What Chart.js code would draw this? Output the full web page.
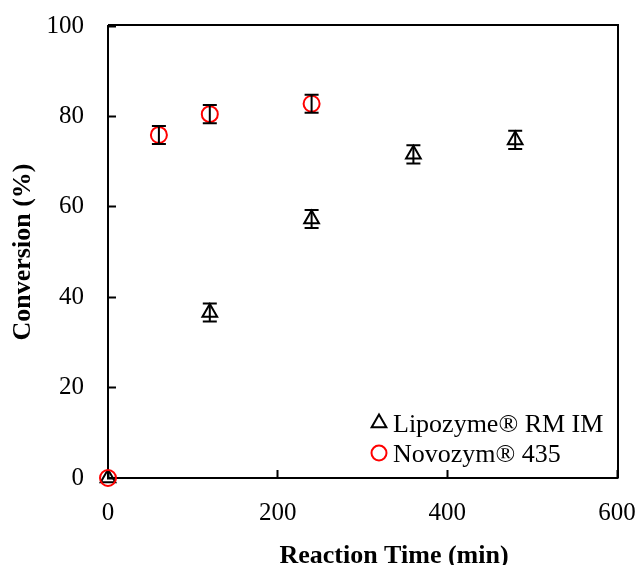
<!DOCTYPE html>
<html>
<head>
<meta charset="utf-8">
<script src="https://cdn.jsdelivr.net/npm/chart.js@4.4.0/dist/chart.umd.min.js"></script>
<style>
html, body { margin: 0; padding: 0; background: #fff; }
</style>
</head>
<body>
<canvas id="conversionChart" width="638" height="565"></canvas>
<script>
// Lipozyme RM IM: tempo (min), conversão (%) e desvio
const lipozymeTime = [0, 120, 240, 360, 480];
const lipozymeConv = [0, 36.6, 57.3, 71.6, 74.8];
const lipozymeErr = [0, 2, 2, 2, 2];

// Novozym 435
const novozymTime = [0, 60, 120, 240];
const novozymConv = [0, 75.9, 80.5, 82.8];
const novozymErr = [0, 2, 2, 2];

const xTicks = [0, 200, 400, 600];
const yTicks = [0, 20, 40, 60, 80, 100];

const serif = '"Liberation Serif", "Times New Roman", serif';

function toPoints(xs, ys) {
    return xs.map((x, i) => ({ x: x, y: ys[i] }));
}

// Barras de erro verticais em preto
const errorBars = {
    id: 'errorBars',
    afterDatasetsDraw(chart) {
        const ctx = chart.ctx;
        const xs = chart.scales.x, ys = chart.scales.y;
        ctx.save();
        ctx.strokeStyle = '#000';
        ctx.lineWidth = 2;
        chart.data.datasets.forEach(ds => {
            ds.data.forEach((p, i) => {
                const e = ds.errors[i];
                if (!e) return;
                const px = xs.getPixelForValue(p.x);
                const top = ys.getPixelForValue(p.y + e);
                const bot = ys.getPixelForValue(p.y - e);
                ctx.beginPath();
                ctx.moveTo(px, top); ctx.lineTo(px, bot);
                ctx.moveTo(px - 7, top); ctx.lineTo(px + 7, top);
                ctx.moveTo(px - 7, bot); ctx.lineTo(px + 7, bot);
                ctx.stroke();
            });
        });
        ctx.restore();
    }
};

// Moldura, título do eixo x e legenda dentro da área do gráfico
const frameAndLegend = {
    id: 'frameAndLegend',
    afterDraw(chart) {
        const ctx = chart.ctx;
        const a = chart.chartArea;
        ctx.save();
        ctx.strokeStyle = '#000';
        ctx.lineWidth = 2;
        ctx.beginPath();
        ctx.moveTo(a.left, a.top - 1);
        ctx.lineTo(a.right + 1, a.top - 1);
        ctx.lineTo(a.right + 1, a.bottom);
        ctx.stroke();

        ctx.fillStyle = '#000';
        ctx.font = 'bold 26px ' + serif;
        ctx.textAlign = 'center';
        ctx.textBaseline = 'alphabetic';
        ctx.fillText('Reaction Time (min)', 394, 563);

        ctx.font = '26px ' + serif;
        ctx.textAlign = 'left';
        chart.data.datasets.forEach((ds, i) => {
            const y = 423 + i * 30;
            ctx.strokeStyle = ds.pointBorderColor;
            ctx.fillStyle = 'rgba(0,0,0,0)';
            Chart.helpers.drawPoint(ctx, {
                pointStyle: ds.pointStyle,
                radius: ds.pointStyle === 'triangle' ? 8.5 : 7.5,
                borderWidth: 2,
                rotation: 0
            }, 379, y);
            ctx.fillStyle = '#000';
            ctx.fillText(ds.label, 393, y + 9);
        });
        ctx.restore();
    }
};

const data = {
    datasets: [{
        label: 'Lipozyme® RM IM',
        data: toPoints(lipozymeTime, lipozymeConv),
        errors: lipozymeErr,
        pointStyle: 'triangle',
        pointRadius: 8.5,
        pointHoverRadius: 8.5,
        pointBorderWidth: 2,
        pointBorderColor: '#000',
        pointBackgroundColor: 'rgba(0,0,0,0)',
        showLine: false,
        clip: false,
        order: 1
    }, {
        label: 'Novozym® 435',
        data: toPoints(novozymTime, novozymConv),
        errors: novozymErr,
        pointStyle: 'circle',
        pointRadius: 8,
        pointHoverRadius: 8,
        pointBorderWidth: 2,
        pointBorderColor: '#ff0000',
        pointBackgroundColor: 'rgba(0,0,0,0)',
        showLine: false,
        clip: false,
        order: 0
    }]
};

const config = {
    type: 'scatter',
    data: data,
    options: {
        responsive: false,
        devicePixelRatio: 1,
        animation: false,
        layout: { padding: { top: 26, right: 21, left: 0, bottom: 0 } },
        plugins: {
            legend: { display: false },
            tooltip: { enabled: false }
        },
        scales: {
            x: {
                type: 'linear',
                min: 0,
                max: 600,
                afterBuildTicks: s => { s.ticks = xTicks.map(v => ({ value: v })); },
                afterFit: s => { s.height = 87; s.paddingLeft = 0; s.paddingRight = 0; },
                ticks: { color: '#000', font: { family: serif, size: 25 }, padding: 28 },
                grid: { drawOnChartArea: false, tickLength: -8, tickWidth: 2, tickColor: '#000' },
                border: { color: '#000', width: 2 },
                title: { display: false }
            },
            y: {
                type: 'linear',
                min: 0,
                max: 100,
                afterBuildTicks: s => { s.ticks = yTicks.map(v => ({ value: v })); },
                afterFit: s => { s.width = 108; s.paddingTop = 0; s.paddingBottom = 0; },
                ticks: { color: '#000', font: { family: serif, size: 25 }, padding: 32 },
                grid: { drawOnChartArea: false, tickLength: -8, tickWidth: 2, tickColor: '#000' },
                border: { color: '#000', width: 2 },
                title: {
                    display: true,
                    text: 'Conversion (%)',
                    color: '#000',
                    font: { family: serif, size: 26, weight: 'bold' },
                    padding: { top: 8, bottom: 0 }
                }
            }
        }
    },
    plugins: [errorBars, frameAndLegend]
};

const ctx = document.getElementById('conversionChart').getContext('2d');
const conversionChart = new Chart(ctx, config);
</script>
</body>
</html>
